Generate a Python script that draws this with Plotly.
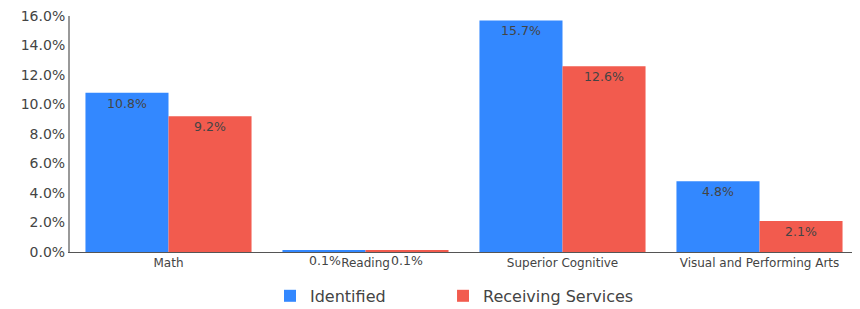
import plotly.graph_objects as go

categories = ["Math", "Reading", "Superior Cognitive", "Visual and Performing Arts"]
identified = [10.8, 0.1, 15.7, 4.8]
receiving = [9.2, 0.1, 12.6, 2.1]
series_names = ["Identified", "Receiving Services"]
y_ticks = [0, 2, 4, 6, 8, 10, 12, 14, 16]

colors = ["#3388ff", "#f25b4e"]
FONT = "DejaVu Sans"
TXT = "#444444"
SMALL = 1.0  # values below this get label under the axis

fig = go.Figure()
legends = ["legend", "legend2"]
for name, vals, col, lg in zip(series_names, [identified, receiving], colors, legends):
    fig.add_trace(go.Bar(
        name=name, x=categories, y=vals, marker=dict(color=col, line=dict(width=0)),
        text=[f"{v:.1f}%" if v >= SMALL else "" for v in vals],
        textposition="inside", insidetextanchor="end",
        textfont=dict(family=FONT, size=12.5, color=TXT),
        cliponaxis=False, legend=lg,
    ))

for i, (name, vals) in enumerate(zip(series_names, [identified, receiving])):
    for c, v in zip(categories, vals):
        if v < SMALL:
            fig.add_annotation(x=c, y=0, xref="x", yref="y", text=f"{v:.1f}%",
                               showarrow=False, yanchor="top", xshift=(-41 if i == 0 else 41),
                               yshift=1, font=dict(family=FONT, size=12.5, color=TXT))

leg_common = dict(orientation="h", xanchor="left", y=-0.186, yanchor="middle",
                  xref="container", font=dict(family=FONT, size=16, color=TXT),
                  itemwidth=30, bgcolor="rgba(0,0,0,0)")

# page body has an 8px default margin, so the figure is drawn 8px in from the corner
fig.update_layout(
    width=852, height=301,
    margin=dict(l=62, r=2, t=8, b=57, autoexpand=False),
    paper_bgcolor="white", plot_bgcolor="white",
    barmode="group", bargap=0.157, bargroupgap=0,
    font=dict(family=FONT, color=TXT),
    showlegend=True,
    legend=dict(x=0.3075, **leg_common),
    legend2=dict(x=0.5106, **leg_common),
    uniformtext=dict(minsize=12, mode="show"),
)
fig.update_xaxes(showline=True, linecolor="#555555", linewidth=1, showgrid=False,
                 ticks="", automargin=False, tickfont=dict(family=FONT, size=12, color=TXT))
fig.update_yaxes(range=[0, 16], tickvals=y_ticks, ticktext=[f"{t:.1f}%" for t in y_ticks],
                 showline=True, linecolor="#999999", linewidth=2, showgrid=False,
                 zeroline=False, ticks="", automargin=False, ticklabeloverflow="allow",
                 tickfont=dict(family=FONT, size=14, color=TXT))

fig.write_html("out.html")
